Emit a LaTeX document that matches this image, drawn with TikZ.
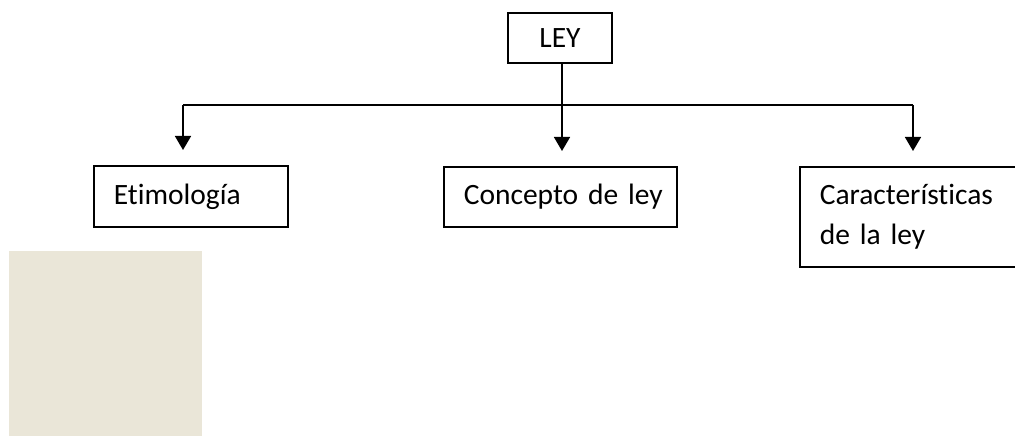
\documentclass[tikz,border=0pt]{standalone}
\usepackage{fontspec}
\setmainfont{Carlito}[Ligatures=NoCommon]
\usepackage{xcolor}
\usetikzlibrary{arrows.meta,positioning}
\definecolor{papel}{RGB}{234,230,216}

\begin{document}
\begin{tikzpicture}[x=1pt,y=1pt]
		\tikzstyle{every node}=[font=\fontsize{29.5}{40}\selectfont]
		\tikzstyle{caja}=[draw, line width=1.6pt, anchor=north west, inner xsep=20pt, inner ysep=0pt, align=left]
		\tikzstyle{flecha}=[line width=1.6pt, -{Triangle[width=16pt,length=14pt]}, shorten >=15pt]
		\useasboundingbox (0,0) rectangle (1015,436);
		\fill [papel] (9,0) rectangle (202,185);
		\node [caja, anchor=center, inner xsep=0pt, minimum width=104, minimum height=50] (ley) at (560,398) {LEY};
		\node [caja, text width=154, minimum height=61] (etim) at (93,271) {\mbox{Etimología}};
		\node [caja, text width=193, minimum height=60] (concepto) at (443,270) {\mbox{Concepto de ley}};
		\node [caja, text width=181, minimum height=100] (caract) at (799,270) {\mbox{Características}\\de la ley};
		\coordinate (izq) at (183,331);
		\coordinate (medio) at (562,331);
		\coordinate (der) at (913,331);
		\draw [line width=1.6pt] (izq) -- (der);
		\draw [line width=1.6pt] (ley.south -| medio) -- (medio);
		\draw [flecha] (izq) -- (izq |- etim.north);
		\draw [flecha] (medio) -- (medio |- concepto.north);
		\draw [flecha] (der) -- (der |- caract.north);
		\end{tikzpicture}
\end{document}
